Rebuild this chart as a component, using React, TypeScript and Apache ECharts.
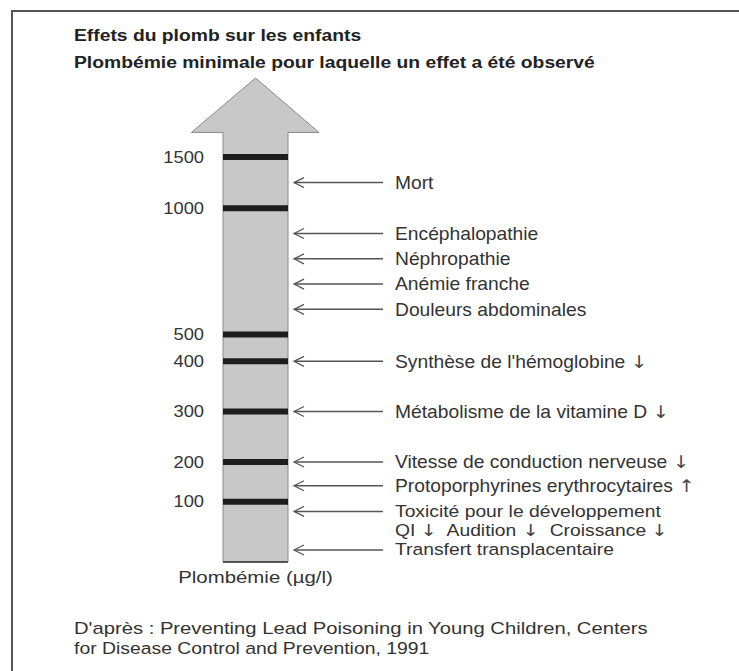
import React, { useEffect, useRef } from "react";
import * as echarts from "echarts";

const titleLines = [
  "Effets du plomb sur les enfants",
  "Plombémie minimale pour laquelle un effet a été observé",
];
// tick levels (µg/l) and their schematic rank along the arrow (the drawing is not linear)
const tickLevels = [100, 200, 300, 400, 500, 1000, 1500];
const tickRanks = [2.39, 3.97, 5.97, 7.96, 9.02, 14.03, 16.07];
const effectNames = [
  "Mort",
  "Encéphalopathie",
  "Néphropathie",
  "Anémie franche",
  "Douleurs abdominales",
  "Synthèse de l'hémoglobine ↓",
  "Métabolisme de la vitamine D ↓",
  "Vitesse de conduction nerveuse ↓",
  "Protoporphyrines erythrocytaires ↑",
  "Toxicité pour le développement\nQI ↓  Audition ↓  Croissance ↓",
  "Transfert transplacentaire",
];
const effectLevels = [1250, 900, 800, 700, 600, 400, 300, 200, 140, 84, 20];
const axisTitle = "Plombémie (µg/l)";
const sourceLines = [
  "D'après : Preventing Lead Poisoning in Young Children, Centers",
  "for Disease Control and Prevention, 1991",
];

const FONT = "Arial, 'Liberation Sans', sans-serif";
const ARROW_FONT = "'DejaVu Sans', 'Liberation Sans', sans-serif";
const TEXT = "#333333";

function rankOf(v: number): number {
  const xs = [0, ...tickLevels];
  const ys = [0, ...tickRanks];
  for (let i = 1; i < xs.length; i++) {
    if (v <= xs[i]) {
      const t = (v - xs[i - 1]) / (xs[i] - xs[i - 1]);
      return ys[i - 1] + t * (ys[i] - ys[i - 1]);
    }
  }
  return ys[ys.length - 1];
}

function richify(s: string): string {
  return s.replace(/([↓↑])/g, "{ar|$1}");
}

export default function App() {
  const ref = useRef<HTMLDivElement>(null);
  useEffect(() => {
    if (!ref.current) return;
    const chart = echarts.init(ref.current, null, { renderer: "svg" });
    const HEAD_BASE = 17.04;
    const TIP = 19.2;
    chart.setOption({
      animation: false,
      backgroundColor: "#ffffff",
      grid: { left: 223, width: 65, top: 78, bottom: 109 },
      xAxis: { type: "value", min: 0, max: 1, show: false },
      yAxis: { type: "value", min: 0, max: TIP, show: false },
      graphic: [
        {
          type: "rect",
          shape: { x: 12, y: 11, width: 800, height: 700 },
          style: { fill: "none", stroke: "#555", lineWidth: 2 },
          silent: true,
        },
        ...titleLines.map((t, i) => ({
          type: "text",
          x: 74,
          y: 35 + i * 27,
          scaleX: 1.135,
          style: {
            text: t,
            fontFamily: FONT,
            fontSize: 17,
            fontWeight: "bold",
            fill: "#222",
            align: "left",
            verticalAlign: "middle",
          },
        })),
        ...sourceLines.map((t, i) => ({
          type: "text",
          x: 74,
          y: 628.5 + i * 20,
          scaleX: i === 0 ? 1.19 : 1.14,
          style: {
            text: t,
            fontFamily: FONT,
            fontSize: 17,
            lineHeight: 17,
            fill: TEXT,
            align: "left",
            verticalAlign: "middle",
          },
        })),
      ],
      series: [
        {
          type: "custom",
          data: [[0.5, 0]],
          renderItem: (params: any, api: any) => {
            const c = (x: number, y: number) => api.coord([x, y]);
            const pts = [
              c(0, 0),
              c(1, 0),
              c(1, HEAD_BASE),
              c(1.477, HEAD_BASE),
              c(0.5, TIP),
              c(-0.486, HEAD_BASE),
              c(0, HEAD_BASE),
            ];
            const b0 = c(0, 0);
            const b1 = c(1, 0);
            const mid = c(0.5, 0);
            return {
              type: "group",
              children: [
                {
                  type: "polygon",
                  shape: { points: pts },
                  style: { fill: "#c8c8c8", stroke: "#8a8a8a", lineWidth: 1 },
                },
                {
                  type: "line",
                  shape: { x1: b0[0], y1: b0[1], x2: b1[0], y2: b1[1] },
                  style: { stroke: "#333", lineWidth: 1.5 },
                },
                {
                  type: "text",
                  x: mid[0],
                  y: mid[1] + 15,
                  scaleX: 1.2,
                  style: {
                    text: axisTitle,
                    fontFamily: FONT,
                    fontSize: 17,
                    fill: TEXT,
                    align: "center",
                    verticalAlign: "middle",
                  },
                },
              ],
            };
          },
          z: 1,
        },
        {
          type: "custom",
          data: tickLevels.map((v) => [0, rankOf(v), v]),
          renderItem: (params: any, api: any) => {
            const p0 = api.coord([0, api.value(1)]);
            const p1 = api.coord([1, api.value(1)]);
            return {
              type: "group",
              children: [
                {
                  type: "rect",
                  shape: { x: p0[0], y: p0[1] - 3, width: p1[0] - p0[0], height: 6 },
                  style: { fill: "#1e1e1e" },
                },
                {
                  type: "text",
                  x: p0[0] - 19,
                  y: p0[1],
                  scaleX: 1.11,
                  style: {
                    text: String(api.value(2)),
                    fontFamily: FONT,
                    fontSize: 16.5,
                    fill: TEXT,
                    align: "right",
                    verticalAlign: "middle",
                  },
                },
              ],
            };
          },
          z: 2,
        },
        {
          type: "custom",
          data: effectLevels.map((v, i) => [1, rankOf(v), v, i]),
          renderItem: (params: any, api: any) => {
            const p = api.coord([1, api.value(1)]);
            const idx = api.value(3);
            const name = effectNames[idx];
            const multi = name.indexOf("\n") >= 0;
            const tight = idx >= effectNames.length - 2;
            const fs = tight ? 16.5 : 17.5;
            const sx = tight ? 1.17 : 1.1;
            const tipX = p[0] + 6;
            const y = p[1];
            return {
              type: "group",
              children: [
                {
                  type: "line",
                  shape: { x1: tipX, y1: y, x2: p[0] + 95, y2: y },
                  style: { stroke: "#555", lineWidth: 1.5 },
                },
                {
                  type: "polyline",
                  shape: { points: [[tipX + 10, y - 5], [tipX, y], [tipX + 10, y + 5]] },
                  style: { stroke: "#555", lineWidth: 1.2, fill: "none" },
                },
                {
                  type: "text",
                  x: p[0] + 107,
                  y: multi ? y - 9.5 : y,
                  scaleX: sx,
                  style: {
                    text: richify(name),
                    fontFamily: FONT,
                    fontSize: fs,
                    lineHeight: 19,
                    fill: TEXT,
                    align: "left",
                    verticalAlign: multi ? "top" : "middle",
                    rich: {
                      ar: {
                        fontFamily: ARROW_FONT,
                        fontSize: fs,
                        lineHeight: 19,
                        fill: "#444",
                      },
                    },
                  },
                },
              ],
            };
          },
          z: 3,
        },
      ],
    });
    return () => chart.dispose();
  }, []);
  return (
    <div
      ref={ref}
      style={{ position: "absolute", left: 0, top: 0, width: 739, height: 671 }}
    />
  );
}
